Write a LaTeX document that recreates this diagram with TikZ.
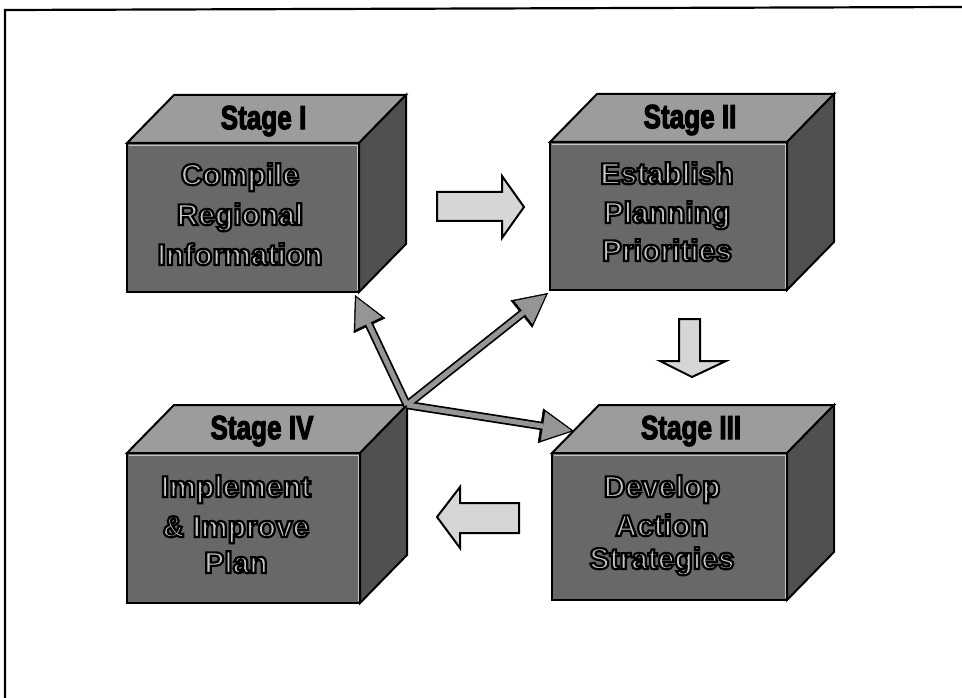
\documentclass[tikz,border=0pt]{standalone}
\usepackage{fontspec}
\setmainfont{Liberation Sans}
\usetikzlibrary{arrows.meta,calc}
\definecolor{frontc}{HTML}{686868}
\definecolor{topc}{HTML}{9C9C9C}
\definecolor{sidec}{HTML}{505050}
\definecolor{textc}{HTML}{C4C4C4}
\definecolor{blockc}{HTML}{D6D6D6}
\definecolor{thinc}{HTML}{959595}
\tikzset{
  frontface/.style={fill=frontc, draw=black, line width=2pt, line join=miter},
  topface/.style={fill=topc, draw=black, line width=2pt, line join=miter},
  sideface/.style={fill=sidec, draw=black, line width=2pt, line join=miter},
  hilite/.style={draw=textc, line width=0.9pt},
  frontline/.style={anchor=base, inner sep=0pt, font=\fontsize{30}{30}\selectfont\bfseries, text=textc},
  stagelabel/.style={anchor=center, inner sep=0pt, font=\fontsize{29}{29}\selectfont\bfseries, text=black},
  blockarrow/.style={fill=blockc, draw=black, line width=2pt, line join=miter},
  thinout/.style={draw=black, line width=8.5pt, -{Triangle[length=34pt,width=35pt,line width=0.5pt]}},
  thinin/.style={draw=thinc, line width=5pt, shorten >=2.8pt, -{Triangle[length=28.5pt,width=29pt,line width=0.3pt]}},
}
% outlined text: fill in current colour, stroke as given
\newcommand\outl[2]{\special{pdf:literal direct 2 Tr #1}#2\special{pdf:literal direct 0 Tr}}
\newcommand\fronttext[1]{\outl{2.2 w 0 0 0 RG}{#1}}
\newcommand\stagelab[1]{\scalebox{0.9}[1.15]{\outl{1.1 w 0 0 0 RG}{#1}}}
\newcommand\stagecube[5]{%
  \coordinate (#1-a) at (#2,#3);
  \coordinate (#1-b) at (#2+#4,#3);
  \coordinate (#1-c) at (#2+#4,#3+#5);
  \coordinate (#1-d) at (#2,#3+#5);
  \coordinate (#1-e) at (#2+47,#3-48);
  \coordinate (#1-f) at (#2+#4+47,#3-48);
  \coordinate (#1-g) at (#2+#4+47,#3+#5-48);
  \path[topface] (#1-a) -- (#1-e) -- (#1-f) -- (#1-b) -- cycle;
  \path[sideface] (#1-b) -- (#1-f) -- (#1-g) -- (#1-c) -- cycle;
  \path[frontface] (#1-a) rectangle (#1-c);
  \draw[hilite] ($(#1-a)+(2,2)$) -- ($(#1-b)+(-2,2)$) -- ($(#1-c)+(-2,-2)$);
}
\begin{document}
\begin{tikzpicture}[x=1pt,y=-1pt]
\useasboundingbox (0,0) rectangle (962,698);
\fill[white] (0,0) rectangle (962,698);
% frame
\draw[line width=2.2pt] (5,698) -- (5,10) -- (962,7);

% cubes
\stagecube{s1}{127}{143}{232}{149}
\stagecube{s2}{550}{142}{237}{148}
\stagecube{s3}{552}{453}{235}{147}
\stagecube{s4}{127}{453}{233}{150}

% stage labels
\node[stagelabel] (l1) at ($(s1-a)!0.5!(s1-f)+(-3,2)$) {\stagelab{Stage I}};
\node[stagelabel] (l2) at ($(s2-a)!0.5!(s2-f)+(-2,2)$) {\stagelab{Stage II}};
\node[stagelabel] (l3) at ($(s3-a)!0.5!(s3-f)+(-2,2)$) {\stagelab{Stage III}};
\node[stagelabel] (l4) at ($(s4-a)!0.5!(s4-f)+(-5,2)$) {\stagelab{Stage IV}};

% front texts
\node[frontline] (t11) at (240,185) {\fronttext{Compile}};
\node[frontline] (t12) at (240,225) {\fronttext{Regional}};
\node[frontline] (t13) at (240,265) {\fronttext{Information}};
\node[frontline] (t21) at (667,184) {\fronttext{Establish}};
\node[frontline] (t22) at (667,223) {\fronttext{Planning}};
\node[frontline] (t23) at (667,261) {\fronttext{Priorities}};
\node[frontline] (t31) at (662,497) {\fronttext{Develop}};
\node[frontline] (t32) at (662,536) {\fronttext{Action}};
\node[frontline] (t33) at (662,569) {\fronttext{Strategies}};
\node[frontline] (t41) at (236,497) {\fronttext{Implement}};
\node[frontline] (t42) at (236,537) {\fronttext{\& Improve}};
\node[frontline] (t43) at (236,573) {\fronttext{Plan}};

% block arrows
\coordinate (ar) at (437,192);
\path[blockarrow, shift={(ar)}] (0,0) -- (65,0) -- (65,-16) -- (87,15) -- (65,46) -- (65,29) -- (0,29) -- cycle;
\coordinate (ad) at (679,319);
\path[blockarrow, shift={(ad)}] (0,0) -- (21,0) -- (21,42) -- (47,42) -- (13,58) -- (-19,42) -- (0,42) -- cycle;
\coordinate (al) at (519,503);
\path[blockarrow, shift={(al)}] (0,0) -- (-59,0) -- (-59,-16) -- (-82,14) -- (-59,45) -- (-59,30) -- (0,30) -- cycle;

% thin arrows from the hub
\coordinate (hub) at (s4-f);
\coordinate (p1) at (355,295);
\coordinate (p2) at (548,293);
\coordinate (p3) at (574,431);
\draw[thinout] (hub) -- (p1);
\draw[thinout] (hub) -- (p2);
\draw[thinout] (hub) -- (p3);
\draw[thinin] (hub) -- (p1);
\draw[thinin] (hub) -- (p2);
\draw[thinin] (hub) -- (p3);
\end{tikzpicture}
\end{document}
